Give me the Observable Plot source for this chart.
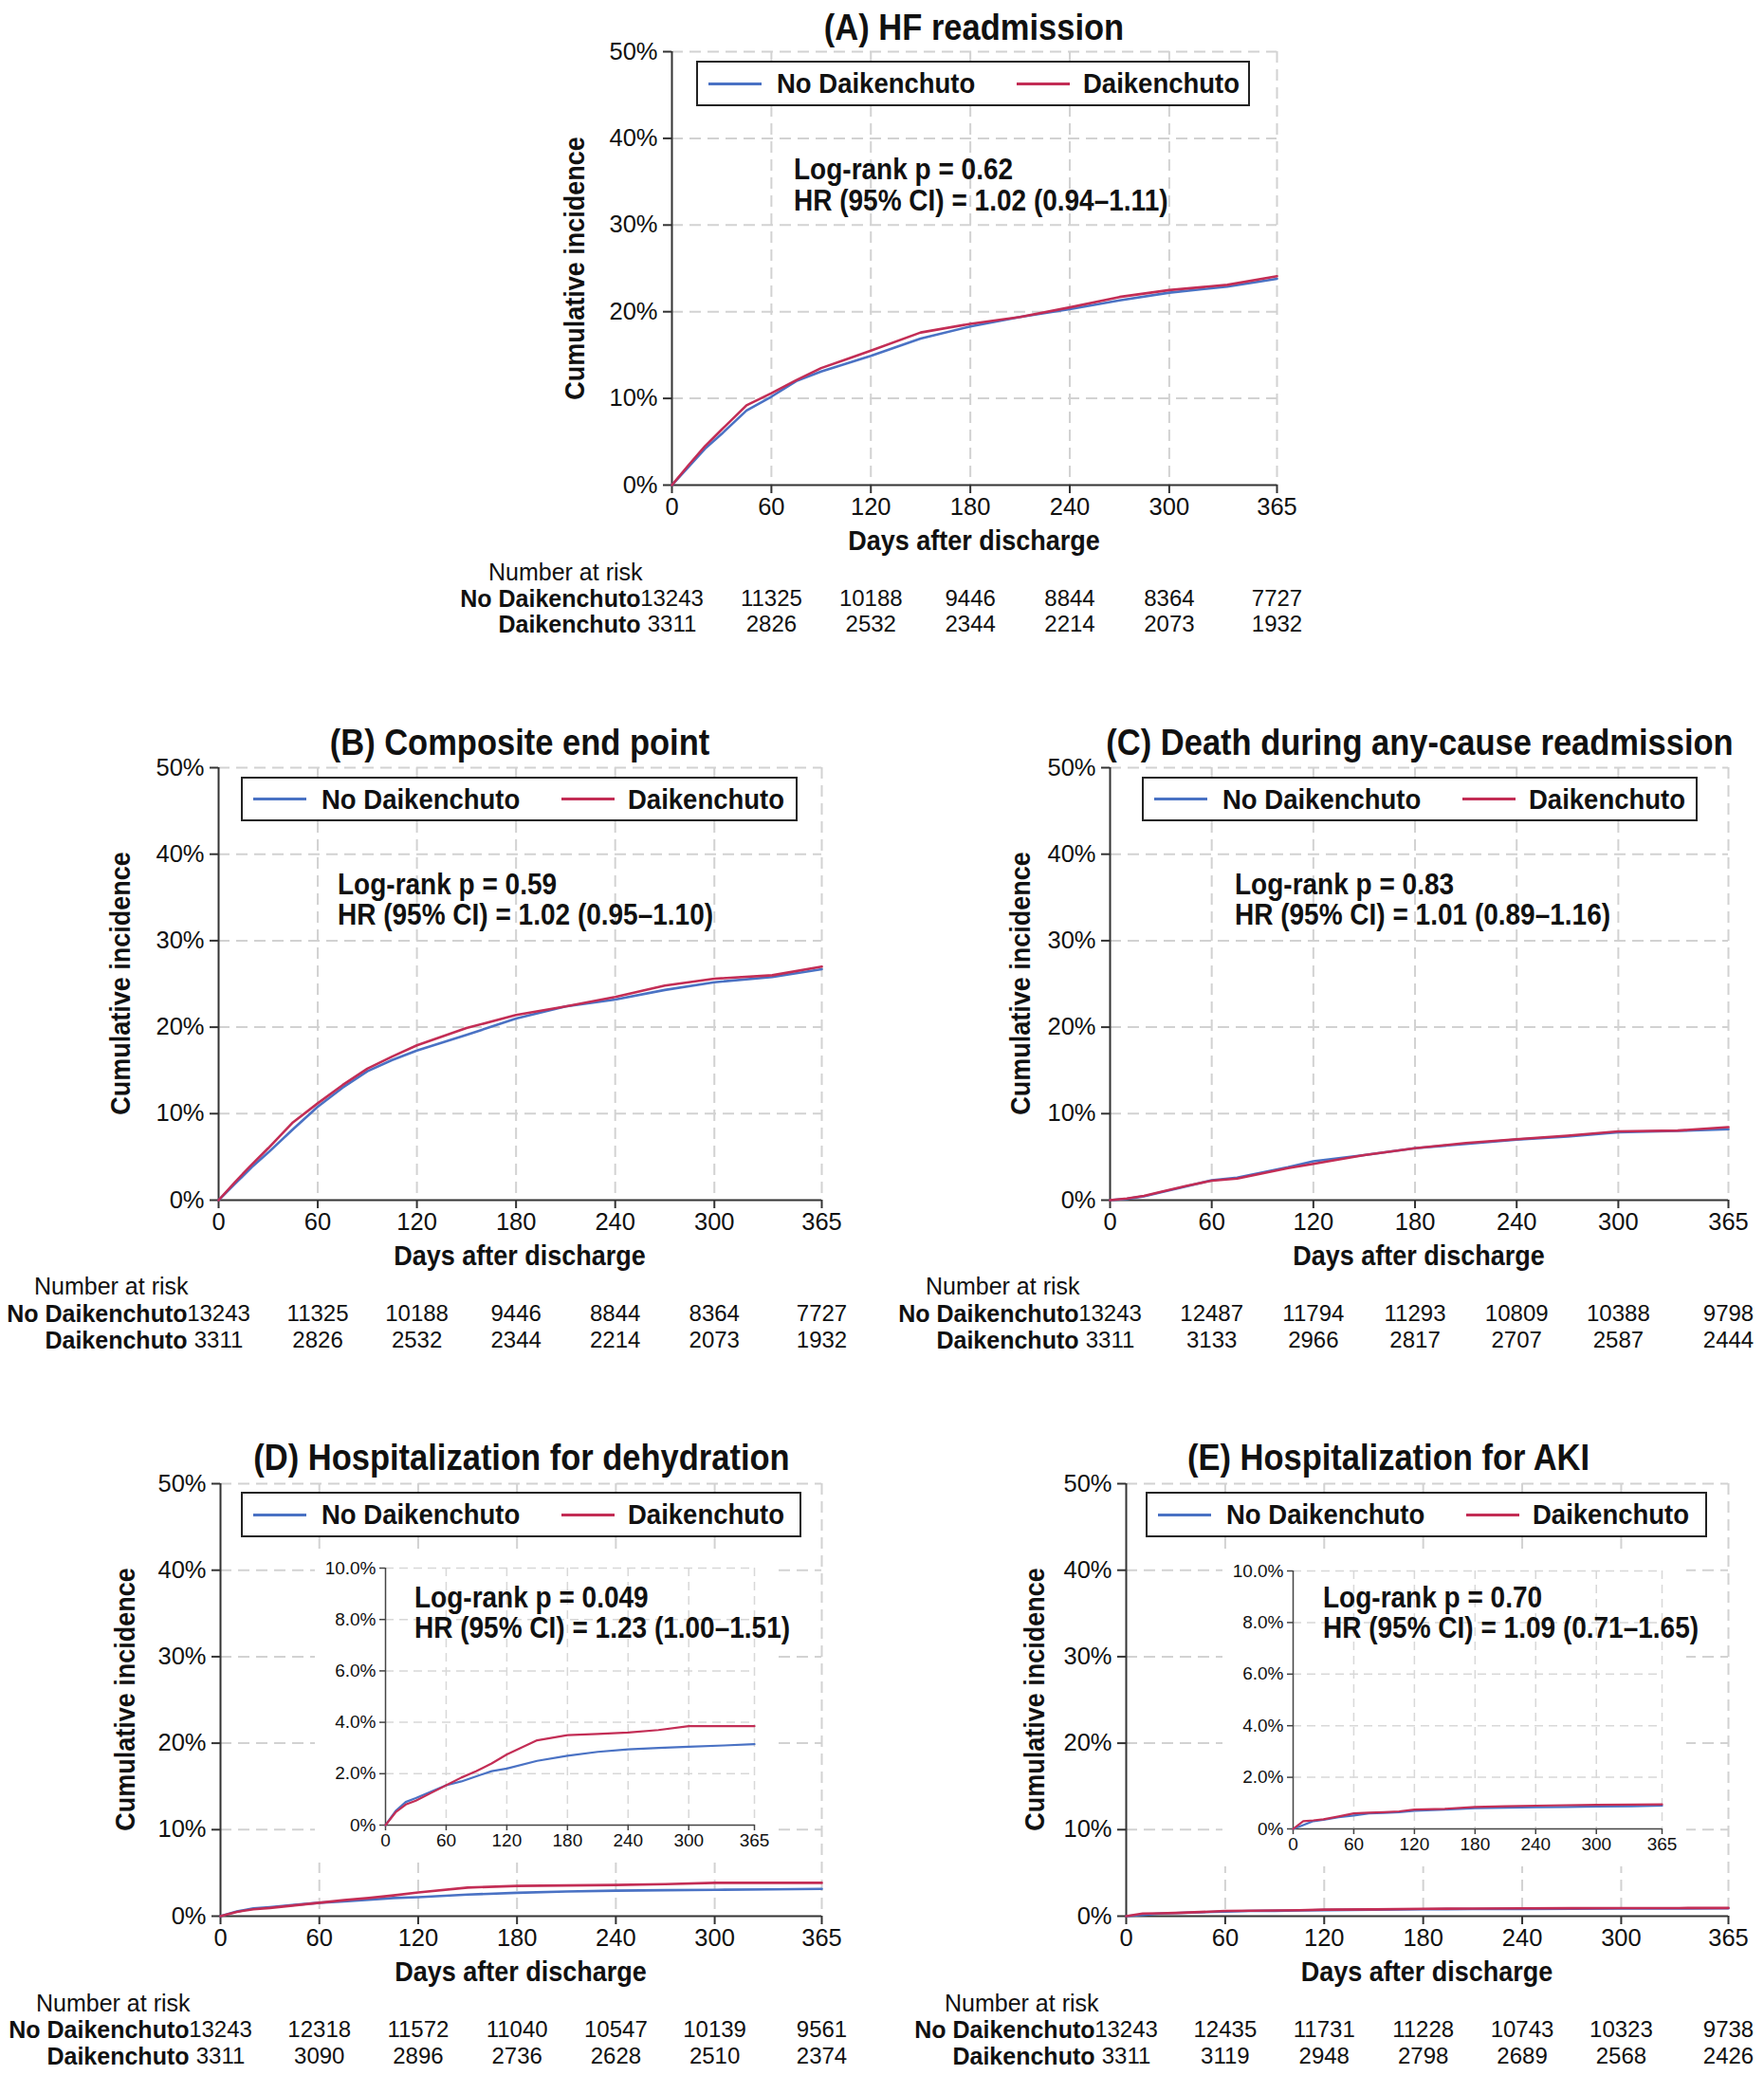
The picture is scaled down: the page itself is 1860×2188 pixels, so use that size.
<!DOCTYPE html>
<html><head><meta charset="utf-8">
<script src="https://cdn.jsdelivr.net/npm/d3@7"></script>
<script src="https://cdn.jsdelivr.net/npm/@observablehq/plot@0.6"></script>
<style>
body{margin:0;background:#fff;}
#root{position:relative;width:1860px;height:2188px;background:#fff;font-family:"Liberation Sans",Arial,Helvetica,sans-serif;color:#111;overflow:hidden;}
.abs{position:absolute;white-space:nowrap;line-height:1;}
.title{font-weight:bold;font-size:34.5px;}
.stat{font-weight:bold;font-size:28px;}
.axt{font-weight:bold;font-size:27px;}
.nar{font-size:25px;}
.legend{position:absolute;border:2px solid #222;box-sizing:border-box;background:#fff;}
.legend .ln{position:absolute;height:3px;}
.legend .lt{position:absolute;font-weight:bold;font-size:27.5px;line-height:1;transform:translate(0,-50%) scale(1,1.1);white-space:nowrap;}
svg{position:absolute;}
</style></head><body><div id="root"></div><script>
// ---------- data ----------
const groups = ["No Daikenchuto", "Daikenchuto"];
const days = [0, 10, 20, 30, 45, 60, 75, 90, 105, 120, 150, 180, 210, 240, 270, 300, 335, 365];
const xTicks = [0, 60, 120, 180, 240, 300, 365];
const yTicks = [0, 10, 20, 30, 40, 50];
const insetYTicks = [0, 2, 4, 6, 8, 10];

// cumulative incidence (%)
const hfNo   = [0, 2.1, 4.2, 5.9, 8.6, 10.2, 12.0, 13.1, 14.0, 14.9, 16.9, 18.3, 19.4, 20.3, 21.3, 22.2, 22.9, 23.8];
const hfYes  = [0, 2.3, 4.5, 6.4, 9.2, 10.6, 12.1, 13.5, 14.5, 15.5, 17.6, 18.6, 19.4, 20.5, 21.7, 22.5, 23.1, 24.1];
const compNo = [0, 1.9, 3.8, 5.5, 8.2, 10.8, 13.0, 14.9, 16.2, 17.3, 19.1, 21.0, 22.4, 23.2, 24.3, 25.2, 25.8, 26.7];
const compYes= [0, 2.1, 4.1, 6.0, 9.0, 11.2, 13.3, 15.2, 16.6, 17.9, 19.9, 21.4, 22.4, 23.5, 24.8, 25.6, 26.0, 27.0];
const deathNo= [0, 0.15, 0.45, 0.9, 1.6, 2.3, 2.6, 3.2, 3.8, 4.5, 5.2, 6.0, 6.5, 7.0, 7.35, 7.85, 8.0, 8.2];
const deathYes=[0, 0.2, 0.5, 0.95, 1.65, 2.25, 2.5, 3.1, 3.7, 4.2, 5.2, 6.0, 6.6, 7.05, 7.45, 7.95, 8.05, 8.45];
const dehyNo = [0, 0.55, 0.9, 1.05, 1.3, 1.55, 1.7, 1.9, 2.1, 2.2, 2.5, 2.7, 2.85, 2.95, 3.0, 3.05, 3.1, 3.15];
const dehyYes= [0, 0.5, 0.8, 0.95, 1.25, 1.55, 1.85, 2.1, 2.4, 2.75, 3.3, 3.5, 3.55, 3.6, 3.7, 3.85, 3.85, 3.85];
const akiNo  = [0, 0.15, 0.3, 0.35, 0.45, 0.52, 0.6, 0.62, 0.65, 0.7, 0.75, 0.8, 0.82, 0.84, 0.85, 0.87, 0.88, 0.9];
const akiYes = [0, 0.3, 0.33, 0.37, 0.48, 0.6, 0.63, 0.65, 0.68, 0.75, 0.78, 0.85, 0.88, 0.9, 0.92, 0.93, 0.94, 0.95];

// numbers at risk
const riskHfNo = [13243, 11325, 10188, 9446, 8844, 8364, 7727];
const riskHfYes = [3311, 2826, 2532, 2344, 2214, 2073, 1932];
const riskDeathNo = [13243, 12487, 11794, 11293, 10809, 10388, 9798];
const riskDeathYes = [3311, 3133, 2966, 2817, 2707, 2587, 2444];
const riskDehyNo = [13243, 12318, 11572, 11040, 10547, 10139, 9561];
const riskDehyYes = [3311, 3090, 2896, 2736, 2628, 2510, 2374];
const riskAkiNo = [13243, 12435, 11731, 11228, 10743, 10323, 9738];
const riskAkiYes = [3311, 3119, 2948, 2798, 2689, 2568, 2426];

const titles = ["(A) HF readmission", "(B) Composite end point", "(C) Death during any-cause readmission",
  "(D) Hospitalization for dehydration", "(E) Hospitalization for AKI"];
const stats = [
  ["Log-rank p = 0.62", "HR (95% CI) = 1.02 (0.94\u20131.11)"],
  ["Log-rank p = 0.59", "HR (95% CI) = 1.02 (0.95\u20131.10)"],
  ["Log-rank p = 0.83", "HR (95% CI) = 1.01 (0.89\u20131.16)"],
  ["Log-rank p = 0.049", "HR (95% CI) = 1.23 (1.00\u20131.51)"],
  ["Log-rank p = 0.70", "HR (95% CI) = 1.09 (0.71\u20131.65)"]
];

// ---------- style ----------
const FONT = '"Liberation Sans", Arial, Helvetica, sans-serif';
const BLUE = "#4a72c4", RED = "#c32d55";
const GRID = {stroke: "#d2d2d2", strokeOpacity: 1, strokeWidth: 2, strokeDasharray: "12,7"};

const root = document.getElementById("root");

function series(no, yes) {
  const out = [];
  days.forEach((d, i) => out.push({day: d, value: no[i], group: groups[0]}));
  days.forEach((d, i) => out.push({day: d, value: yes[i], group: groups[1]}));
  return out;
}
function place(el, left, top) { el.style.left = left + "px"; el.style.top = top + "px"; root.appendChild(el); }
function text(str, x, y, cls, anchor = "middle", rotate = false, sy = 1) {
  const d = document.createElement("div");
  d.className = "abs " + cls;
  d.textContent = str;
  const tx = anchor === "middle" ? "-50%" : anchor === "end" ? "-100%" : "0";
  d.style.transformOrigin = anchor === "start" ? "0 50%" : "50% 50%";
  d.style.transform = `translate(${tx},-50%)` + (rotate ? " rotate(-90deg)" : "") + ` scale(1,${sy})`;
  place(d, x, y);
  return d;
}

function mainPlot(p) {
  const ML = 110, MR = 40, MT = 20, MB = 50;
  const svg = Plot.plot({
    width: p.x1 - p.x0 + ML + MR, height: p.yb - p.yt + MT + MB,
    marginLeft: ML, marginRight: MR, marginTop: MT, marginBottom: MB,
    style: {fontFamily: FONT, fontSize: "25px", color: "#111", background: "transparent", overflow: "visible"},
    x: {domain: [0, 365], label: null},
    y: {domain: [0, 50], label: null},
    color: {domain: groups, range: [BLUE, RED]},
    marks: [
      Plot.gridX(xTicks.slice(1), GRID),
      Plot.gridY(yTicks.slice(1), GRID),
      Plot.axisX(xTicks, {tickSize: 9, tickPadding: 4, fontSize: 25.5, label: null, stroke: "#333", strokeWidth: 2}),
      Plot.axisY(yTicks, {tickSize: 9, tickPadding: 6, fontSize: 25.5, label: null, stroke: "#333", strokeWidth: 2, tickFormat: d => d + "%"}),
      Plot.ruleX([0], {stroke: "#333", strokeWidth: 2}),
      Plot.ruleY([0], {stroke: "#333", strokeWidth: 2}),
      Plot.line(series(p.no, p.yes), {x: "day", y: "value", stroke: "group", strokeWidth: 2.6})
    ]
  });
  place(svg, p.x0 - ML, p.yt - MT);
}

function insetPlot(p) {
  const ML = 74, MR = 26, MT = 16, MB = 40;
  const svg = Plot.plot({
    width: p.ix1 - p.ix0 + ML + MR, height: p.iyb - p.iyt + MT + MB,
    marginLeft: ML, marginRight: MR, marginTop: MT, marginBottom: MB,
    style: {fontFamily: FONT, fontSize: "19px", color: "#111", background: "#fff", overflow: "visible"},
    x: {domain: [0, 365], label: null},
    y: {domain: [0, 10], label: null},
    color: {domain: groups, range: [BLUE, RED]},
    marks: [
      Plot.gridX(xTicks.slice(1), {...GRID, strokeWidth: 1.5, strokeDasharray: "9,6", stroke: "#d8d8d8"}),
      Plot.gridY(insetYTicks.slice(1), {...GRID, strokeWidth: 1.5, strokeDasharray: "9,6", stroke: "#d8d8d8"}),
      Plot.axisX(xTicks, {tickSize: 6, tickPadding: 3, fontSize: 19, label: null, stroke: "#444", strokeWidth: 1.5}),
      Plot.axisY(insetYTicks, {tickSize: 6, tickPadding: 4, fontSize: 19, label: null, stroke: "#444", strokeWidth: 1.5,
        tickFormat: d => d === 0 ? "0%" : d.toFixed(1) + "%"}),
      Plot.ruleX([0], {stroke: "#444", strokeWidth: 1.5}),
      Plot.ruleY([0], {stroke: "#444", strokeWidth: 1.5}),
      Plot.line(series(p.no, p.yes), {x: "day", y: "value", stroke: "group", strokeWidth: 2.2})
    ]
  });
  place(svg, p.ix0 - ML, p.iyt - MT);
}

function riskPlot(p) {
  const ML = 260, MR = 60, MT = 14, MB = 14;
  const gap = p.r2 - p.r1;
  const rows = [];
  xTicks.forEach((t, i) => { rows.push({day: t, group: groups[0], n: p.riskNo[i]}); rows.push({day: t, group: groups[1], n: p.riskYes[i]}); });
  const svg = Plot.plot({
    width: p.x1 - p.x0 + ML + MR, height: gap + MT + MB,
    marginLeft: ML, marginRight: MR, marginTop: MT, marginBottom: MB,
    style: {fontFamily: FONT, fontSize: "24px", color: "#111", background: "transparent", overflow: "visible"},
    x: {domain: [0, 365], axis: null},
    y: {type: "point", domain: groups, padding: 0, axis: null},
    marks: [
      Plot.text(rows, {x: "day", y: "group", text: d => String(d.n), fontSize: 24, fill: "#111"}),
      Plot.text(groups, {x: () => 0, y: d => d, text: d => d, dx: -33, textAnchor: "end", fontWeight: "bold", fontSize: 25, fill: "#111"})
    ]
  });
  place(svg, p.x0 - ML, p.r1 - MT);
}

function legend(l) {
  const box = document.createElement("div");
  box.className = "legend";
  box.style.width = l.w + "px"; box.style.height = l.h + "px";
  const mid = l.h / 2 - 2;
  [[11, 56, BLUE, 83, groups[0]], [336, 56, RED, 406, groups[1]]].forEach(([lx, lw, c, tx, s]) => {
    const ln = document.createElement("div"); ln.className = "ln";
    ln.style.left = lx + "px"; ln.style.width = lw + "px"; ln.style.top = (mid - 1.5) + "px"; ln.style.background = c;
    box.appendChild(ln);
    const t = document.createElement("div"); t.className = "lt"; t.textContent = s;
    t.style.left = tx + "px"; t.style.top = mid + "px";
    box.appendChild(t);
  });
  place(box, l.x, l.y);
}

const panels = [
  {x0: 708, x1: 1346, yt: 54, yb: 511, no: hfNo, yes: hfYes, riskNo: riskHfNo, riskYes: riskHfYes,
   title: [1027, 29], leg: {x: 734, y: 64, w: 584, h: 48}, stat: [837, 179, 212], ytl: 607, xtl: 571, nar: [515, 603], r1: 631, r2: 658},
  {x0: 230, x1: 866, yt: 809, yb: 1265, no: compNo, yes: compYes, riskNo: riskHfNo, riskYes: riskHfYes,
   title: [548, 783], leg: {x: 254, y: 819, w: 587, h: 47}, stat: [356, 933, 965], ytl: 128, xtl: 1325, nar: [36, 1356], r1: 1385, r2: 1413},
  {x0: 1170, x1: 1822, yt: 809, yb: 1265, no: deathNo, yes: deathYes, riskNo: riskDeathNo, riskYes: riskDeathYes,
   title: [1497, 783], leg: {x: 1204, y: 819, w: 586, h: 47}, stat: [1302, 933, 965], ytl: 1077, xtl: 1325, nar: [976, 1356], r1: 1385, r2: 1413},
  {x0: 232, x1: 866, yt: 1564, yb: 2020, no: dehyNo, yes: dehyYes, riskNo: riskDehyNo, riskYes: riskDehyYes,
   title: [550, 1537], leg: {x: 254, y: 1573, w: 591, h: 48}, stat: [437, 1685, 1717], ytl: 133, xtl: 2080, nar: [38, 2112], r1: 2140, r2: 2168,
   inset: {ix0: 406, ix1: 795, iyt: 1653, iyb: 1924}},
  {x0: 1187, x1: 1822, yt: 1564, yb: 2020, no: akiNo, yes: akiYes, riskNo: riskAkiNo, riskYes: riskAkiYes,
   title: [1464, 1537], leg: {x: 1208, y: 1573, w: 592, h: 48}, stat: [1395, 1685, 1717], ytl: 1092, xtl: 2080, nar: [996, 2112], r1: 2140, r2: 2168,
   inset: {ix0: 1363, ix1: 1752, iyt: 1656, iyb: 1928}}
];

panels.forEach((p, i) => {
  mainPlot(p);
  if (p.inset) insetPlot({...p.inset, no: p.no, yes: p.yes});
  riskPlot(p);
  legend(p.leg);
  text(titles[i], p.title[0], p.title[1], "title", "middle", false, 1.12);
  text(stats[i][0], p.stat[0], p.stat[1], "stat", "start", false, 1.1);
  text(stats[i][1], p.stat[0], p.stat[2], "stat", "start", false, 1.1);
  text("Cumulative incidence", p.ytl, (p.yt + p.yb) / 2, "axt", "middle", true, 1.1);
  text("Days after discharge", (p.x0 + p.x1) / 2, p.xtl, "axt", "middle", false, 1.1);
  text("Number at risk", p.nar[0], p.nar[1], "nar", "start", false, 1.05);
});
</script></body></html>
